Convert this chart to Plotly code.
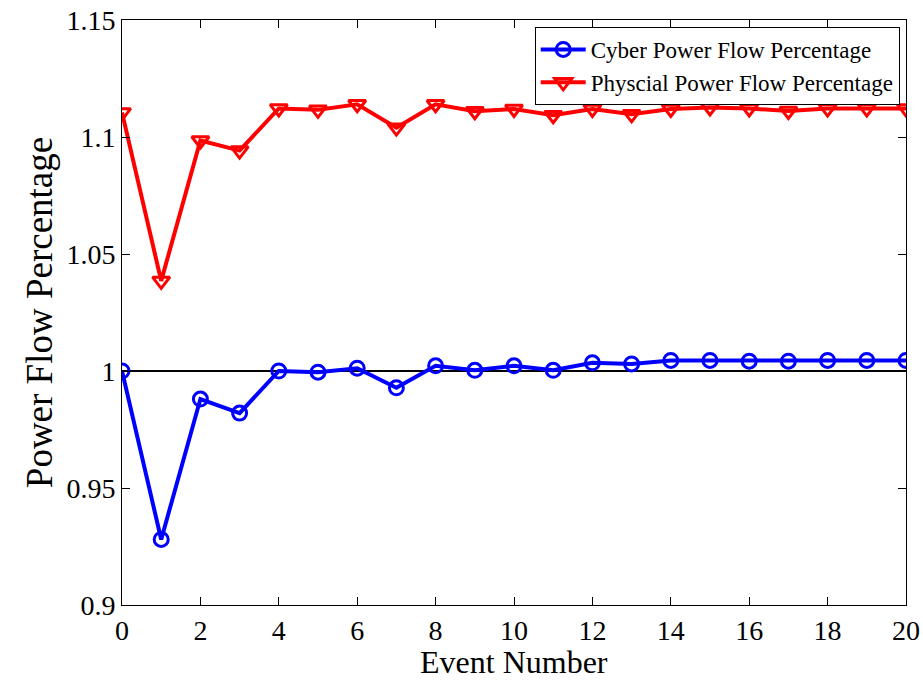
import plotly.graph_objects as go

events = list(range(21))
cyber = [1.0, 0.928, 0.988, 0.982, 1.0, 0.9995, 1.0012, 0.9928, 1.0022, 1.0003, 1.0022,
         1.0003, 1.0035, 1.003, 1.0045, 1.0045, 1.0042, 1.0042, 1.0045, 1.0045, 1.0045]
physical = [1.1105, 1.0385, 1.0985, 1.0942, 1.1122, 1.1116, 1.114, 1.104, 1.114, 1.111, 1.112,
            1.1093, 1.112, 1.1097, 1.112, 1.1126, 1.1122, 1.1111, 1.1122, 1.1122, 1.1122]
y_ticks = [0.9, 0.95, 1.0, 1.05, 1.1, 1.15]
y_tick_text = ["0.9", "0.95", "1", "1.05", "1.1", "1.15"]
x_ticks = list(range(0, 21, 2))

FONT = "Liberation Serif"

fig = go.Figure()
fig.add_trace(go.Scatter(
    x=[0, 20], y=[1.0, 1.0], mode="lines",
    line=dict(color="black", width=2), showlegend=False, hoverinfo="skip"))
fig.add_trace(go.Scatter(
    x=events, y=cyber, mode="lines+markers", name="Cyber Power Flow Percentage",
    line=dict(color="#0000ff", width=4),
    marker=dict(symbol="circle-open", size=14, color="#0000ff", line=dict(width=3))))
fig.add_trace(go.Scatter(
    x=events, y=physical, mode="lines+markers", name="Physcial Power Flow Percentage",
    line=dict(color="#ff0000", width=4),
    marker=dict(symbol="triangle-down-open", size=15, color="#ff0000", line=dict(width=3))))

axis_common = dict(showline=True, linecolor="black", linewidth=1, mirror="ticks",
                   ticks="inside", ticklen=8, tickcolor="black", showgrid=False,
                   zeroline=False, automargin=False,
                   tickfont=dict(family=FONT, size=28, color="black"))

fig.update_layout(
    width=923, height=681,
    margin=dict(l=122, r=17, t=20, b=76),
    paper_bgcolor="white", plot_bgcolor="white",
    font=dict(family=FONT, color="black"),
    xaxis=dict(range=[0, 20], tickvals=x_ticks, **axis_common),
    yaxis=dict(range=[0.9, 1.15], tickvals=y_ticks, ticktext=y_tick_text,
               title=dict(text="Power Flow Percentage", font=dict(family=FONT, size=37), standoff=2),
               **axis_common),
    legend=dict(x=0.992, y=0.988, xanchor="right", yanchor="top",
                bgcolor="white", bordercolor="black", borderwidth=1,
                font=dict(family=FONT, size=23, color="black"),
                tracegroupgap=0, itemwidth=45),
    annotations=[dict(text="Event Number", xref="paper", yref="paper", x=0.5, y=0,
                      xanchor="center", yanchor="top", yshift=-37, showarrow=False,
                      font=dict(family=FONT, size=32, color="black"))],
)

fig.write_html("out.html")
